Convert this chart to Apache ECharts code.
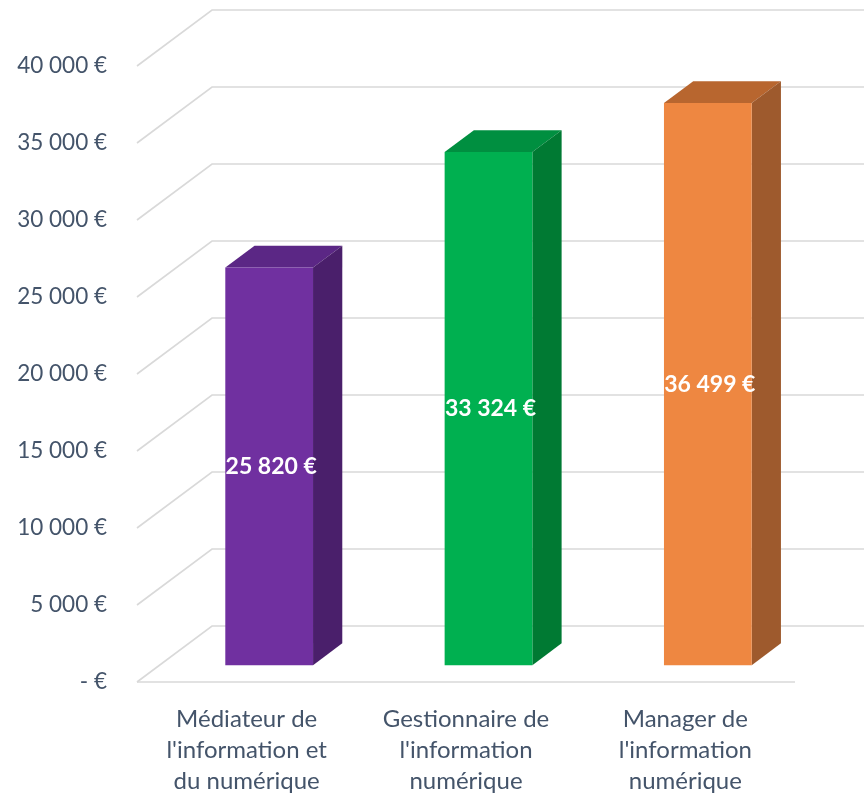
<!DOCTYPE html>
<html>
<head>
<meta charset="utf-8">
<script src="https://cdn.jsdelivr.net/npm/echarts@6/dist/echarts.min.js"></script>
<style>
  html, body { margin: 0; padding: 0; background: #fff; }
  #main { width: 864px; height: 794px; }
</style>
</head>
<body>
<div id="main"></div>
<script>
// données
var categories = [
  "Médiateur de\nl'information et\ndu numérique",
  "Gestionnaire de\nl'information\nnumérique",
  "Manager de\nl'information\nnumérique"
];
var salaires = [25820, 33324, 36499];
var ticks = [0, 5000, 10000, 15000, 20000, 25000, 30000, 35000, 40000];

// couleurs des barres : face, dessus, côté
var faceColors = ['#7030A0', '#00B050', '#EE8741'];
var topColors = ['#5B2785', '#008F40', '#B8662F'];
var sideColors = ['#4A1F6B', '#007A33', '#9E5A2D'];

// perspective
var DEPTH_X = 75, DEPTH_Y = -56;   // profondeur totale du mur
var BAR_SHIFT = 0.3;               // position de la face avant des barres
var BAR_DEPTH = 0.39;              // épaisseur des barres

function fmt(v) {
  if (v === 0) return '- €';
  return String(v).replace(/\B(?=(\d{3})+(?!\d))/g, ' ') + ' €';
}

var chart = echarts.init(document.getElementById('main'));

var option = {
  backgroundColor: '#ffffff',
  animation: false,
  textStyle: { fontFamily: 'Lato' },
  grid: {
    left: 137,
    right: 69,
    top: 66,
    bottom: 112,
    containLabel: false,
    outerBoundsMode: 'none'
  },
  xAxis: {
    type: 'category',
    data: categories,
    axisLine: { show: false },
    axisTick: { show: false },
    axisLabel: {
      margin: 22,
      fontSize: 24,
      lineHeight: 31,
      color: '#44546A',
      fontFamily: 'Lato',
      interval: 0
    }
  },
  yAxis: {
    type: 'value',
    min: 0,
    max: 40000,
    interval: 5000,
    splitLine: { show: false },
    axisLine: { show: false },
    axisTick: { show: false },
    axisLabel: {
      margin: 30,
      fontSize: 22.5,
      color: '#44546A',
      fontFamily: 'Lato',
      formatter: fmt
    }
  },
  series: [
    // lignes de quadrillage en perspective
    {
      type: 'custom',
      silent: true,
      z: 1,
      data: ticks.map(function (t) { return [0, t]; }),
      renderItem: function (params, api) {
        var cs = params.coordSys;
        var y = api.coord([0, api.value(1)])[1];
        var x0 = cs.x;
        var pts = [[x0, y], [x0 + DEPTH_X, y + DEPTH_Y], [api.getWidth(), y + DEPTH_Y]];
        var children = [{
          type: 'polyline',
          shape: { points: pts },
          style: { stroke: '#D9D9D9', lineWidth: 1.6, fill: null }
        }];
        if (api.value(1) === 0) {
          children.push({
            type: 'line',
            shape: { x1: x0, y1: y, x2: cs.x + cs.width, y2: y },
            style: { stroke: '#D9D9D9', lineWidth: 1.6 }
          });
        }
        return { type: 'group', children: children };
      }
    },
    // barres 3D
    {
      type: 'custom',
      z: 2,
      data: salaires.map(function (v, i) { return [i, v]; }),
      renderItem: function (params, api) {
        var i = api.value(0);
        var base = api.coord([i, 0]);
        var top = api.coord([i, api.value(1)]);
        var w = api.size([1, 0])[0] * 0.4;
        var sx = DEPTH_X * BAR_SHIFT, sy = DEPTH_Y * BAR_SHIFT;
        var dx = DEPTH_X * BAR_DEPTH, dy = DEPTH_Y * BAR_DEPTH;
        var xl = base[0] + sx - w / 2, xr = base[0] + sx + w / 2;
        var yt = top[1] + sy, yb = base[1] + sy;
        return {
          type: 'group',
          children: [
            {
              type: 'polygon',
              shape: { points: [[xl, yt], [xl + dx, yt + dy], [xr + dx, yt + dy], [xr, yt]] },
              style: { fill: topColors[i] }
            },
            {
              type: 'polygon',
              shape: { points: [[xr, yt], [xr + dx, yt + dy], [xr + dx, yb + dy], [xr, yb]] },
              style: { fill: sideColors[i] }
            },
            {
              type: 'rect',
              shape: { x: xl, y: yt, width: w, height: yb - yt },
              style: { fill: faceColors[i] }
            },
            {
              type: 'text',
              style: {
                x: (xl + xr) / 2 + 2,
                y: (yt + yb) / 2,
                text: fmt(api.value(1)),
                fill: '#ffffff',
                fontSize: 23,
                fontWeight: 'bold',
                fontFamily: 'Lato',
                align: 'center',
                verticalAlign: 'middle'
              }
            }
          ]
        };
      }
    }
  ]
};

chart.setOption(option);
</script>
</body>
</html>
